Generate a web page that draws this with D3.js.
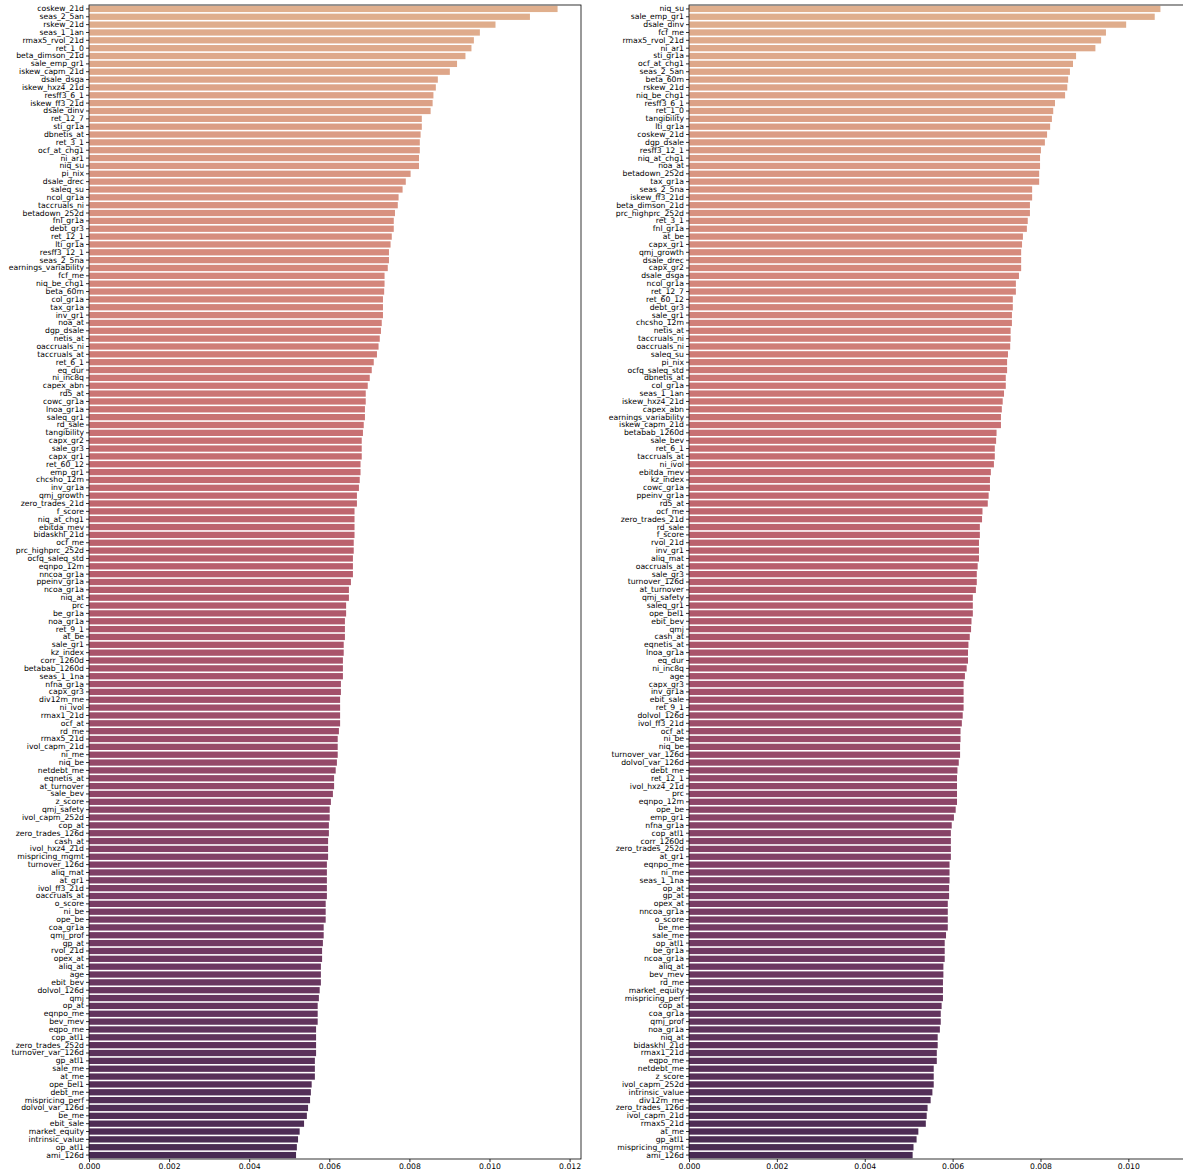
<!doctype html>
<html lang="en">
<head>
  <meta charset="UTF-8">
  <title>Feature importance bars</title>
  <script src="https://cdnjs.cloudflare.com/ajax/libs/d3/7.8.5/d3.min.js"></script>
  <style>
  body { margin: 0; background: #fff; }
  svg { display: block; }
  text { font-family: "DejaVu Sans", sans-serif; fill: #000; }
  </style>
</head>
<body>
<script>

// left panel
var leftLabels = ["coskew_21d","seas_2_5an","rskew_21d","seas_1_1an","rmax5_rvol_21d","ret_1_0","beta_dimson_21d","sale_emp_gr1","iskew_capm_21d","dsale_dsga","iskew_hxz4_21d","resff3_6_1","iskew_ff3_21d","dsale_dinv","ret_12_7","sti_gr1a","dbnetis_at","ret_3_1","ocf_at_chg1","ni_ar1","niq_su","pi_nix","dsale_drec","saleq_su",
  "ncol_gr1a","taccruals_ni","betadown_252d","fnl_gr1a","debt_gr3","ret_12_1","lti_gr1a","resff3_12_1","seas_2_5na","earnings_variability","fcf_me","niq_be_chg1","beta_60m","col_gr1a","tax_gr1a","inv_gr1","noa_at","dgp_dsale","netis_at","oaccruals_ni","taccruals_at","ret_6_1","eq_dur","ni_inc8q","capex_abn",
  "rd5_at","cowc_gr1a","lnoa_gr1a","saleq_gr1","rd_sale","tangibility","capx_gr2","sale_gr3","capx_gr1","ret_60_12","emp_gr1","chcsho_12m","inv_gr1a","qmj_growth","zero_trades_21d","f_score","niq_at_chg1","ebitda_mev","bidaskhl_21d","ocf_me","prc_highprc_252d","ocfq_saleq_std","eqnpo_12m","nncoa_gr1a","ppeinv_gr1a",
  "ncoa_gr1a","niq_at","prc","be_gr1a","noa_gr1a","ret_9_1","at_be","sale_gr1","kz_index","corr_1260d","betabab_1260d","seas_1_1na","nfna_gr1a","capx_gr3","div12m_me","ni_ivol","rmax1_21d","ocf_at","rd_me","rmax5_21d","ivol_capm_21d","ni_me","niq_be","netdebt_me","eqnetis_at",
  "at_turnover","sale_bev","z_score","qmj_safety","ivol_capm_252d","cop_at","zero_trades_126d","cash_at","ivol_hxz4_21d","mispricing_mgmt","turnover_126d","aliq_mat","at_gr1","ivol_ff3_21d","oaccruals_at","o_score","ni_be","ope_be","coa_gr1a","qmj_prof","gp_at","rvol_21d","opex_at","aliq_at",
  "age","ebit_bev","dolvol_126d","qmj","op_at","eqnpo_me","bev_mev","eqpo_me","cop_atl1","zero_trades_252d","turnover_var_126d","gp_atl1","sale_me","at_me","ope_bel1","debt_me","mispricing_perf","dolvol_var_126d","be_me","ebit_sale","market_equity","intrinsic_value","op_atl1","ami_126d"];

var leftValues = [0.01170,0.01101,0.01015,0.00976,0.00961,0.00955,0.00940,0.00919,0.00901,0.00871,0.00866,0.00860,0.00858,0.00853,0.00831,0.00831,0.00828,0.00826,0.00826,0.00824,0.00824,0.00803,0.00791,0.00783,
  0.00773,0.00771,0.00764,0.00761,0.00761,0.00756,0.00753,0.00749,0.00749,0.00746,0.00738,0.00738,0.00737,0.00734,0.00734,0.00734,0.00731,0.00729,0.00726,0.00723,0.00719,0.00711,0.00706,0.00701,0.00696,
  0.00691,0.00691,0.00689,0.00689,0.00686,0.00684,0.00681,0.00681,0.00681,0.00678,0.00678,0.00676,0.00674,0.00669,0.00669,0.00663,0.00663,0.00663,0.00663,0.00661,0.00661,0.00659,0.00659,0.00659,0.00654,
  0.00649,0.00649,0.00642,0.00642,0.00639,0.00639,0.00639,0.00636,0.00636,0.00634,0.00634,0.00634,0.00629,0.00629,0.00627,0.00627,0.00627,0.00627,0.00624,0.00621,0.00621,0.00621,0.00619,0.00616,0.00612,
  0.00612,0.00609,0.00604,0.00601,0.00601,0.00599,0.00599,0.00597,0.00597,0.00597,0.00594,0.00594,0.00594,0.00594,0.00594,0.00591,0.00591,0.00591,0.00586,0.00586,0.00584,0.00582,0.00582,0.00579,
  0.00579,0.00579,0.00576,0.00574,0.00571,0.00571,0.00571,0.00567,0.00567,0.00567,0.00567,0.00564,0.00564,0.00564,0.00556,0.00554,0.00552,0.00547,0.00544,0.00537,0.00526,0.00522,0.00519,0.00517];

// right panel
var rightLabels = ["niq_su","sale_emp_gr1","dsale_dinv","fcf_me","rmax5_rvol_21d","ni_ar1","sti_gr1a","ocf_at_chg1","seas_2_5an","beta_60m","rskew_21d","niq_be_chg1","resff3_6_1","ret_1_0","tangibility","lti_gr1a","coskew_21d","dgp_dsale","resff3_12_1","niq_at_chg1","noa_at","betadown_252d","tax_gr1a","seas_2_5na",
  "iskew_ff3_21d","beta_dimson_21d","prc_highprc_252d","ret_3_1","fnl_gr1a","at_be","capx_gr1","qmj_growth","dsale_drec","capx_gr2","dsale_dsga","ncol_gr1a","ret_12_7","ret_60_12","debt_gr3","sale_gr1","chcsho_12m","netis_at","taccruals_ni","oaccruals_ni","saleq_su","pi_nix","ocfq_saleq_std","dbnetis_at","col_gr1a",
  "seas_1_1an","iskew_hxz4_21d","capex_abn","earnings_variability","iskew_capm_21d","betabab_1260d","sale_bev","ret_6_1","taccruals_at","ni_ivol","ebitda_mev","kz_index","cowc_gr1a","ppeinv_gr1a","rd5_at","ocf_me","zero_trades_21d","rd_sale","f_score","rvol_21d","inv_gr1","aliq_mat","oaccruals_at","sale_gr3","turnover_126d",
  "at_turnover","qmj_safety","saleq_gr1","ope_bel1","ebit_bev","qmj","cash_at","eqnetis_at","lnoa_gr1a","eq_dur","ni_inc8q","age","capx_gr3","inv_gr1a","ebit_sale","ret_9_1","dolvol_126d","ivol_ff3_21d","ocf_at","ni_be","niq_be","turnover_var_126d","dolvol_var_126d","debt_me",
  "ret_12_1","ivol_hxz4_21d","prc","eqnpo_12m","ope_be","emp_gr1","nfna_gr1a","cop_atl1","corr_1260d","zero_trades_252d","at_gr1","eqnpo_me","ni_me","seas_1_1na","op_at","gp_at","opex_at","nncoa_gr1a","o_score","be_me","sale_me","op_atl1","be_gr1a","ncoa_gr1a","aliq_at",
  "bev_mev","rd_me","market_equity","mispricing_perf","cop_at","coa_gr1a","qmj_prof","noa_gr1a","niq_at","bidaskhl_21d","rmax1_21d","eqpo_me","netdebt_me","z_score","ivol_capm_252d","intrinsic_value","div12m_me","zero_trades_126d","ivol_capm_21d","rmax5_21d","at_me","gp_atl1","mispricing_mgmt","ami_126d"];

var rightValues = [0.01073,0.01060,0.00995,0.00949,0.00938,0.00925,0.00881,0.00874,0.00867,0.00863,0.00861,0.00856,0.00833,0.00829,0.00826,0.00822,0.00815,0.00810,0.00801,0.00799,0.00799,0.00797,0.00797,0.00781,
  0.00781,0.00776,0.00776,0.00771,0.00769,0.00760,0.00758,0.00756,0.00756,0.00756,0.00751,0.00744,0.00744,0.00737,0.00737,0.00735,0.00735,0.00732,0.00732,0.00731,0.00726,0.00724,0.00724,0.00721,0.00721,
  0.00717,0.00714,0.00712,0.00710,0.00710,0.00700,0.00699,0.00696,0.00696,0.00694,0.00687,0.00685,0.00685,0.00682,0.00680,0.00668,0.00667,0.00662,0.00662,0.00660,0.00660,0.00660,0.00657,0.00655,0.00655,
  0.00653,0.00646,0.00646,0.00646,0.00643,0.00642,0.00639,0.00636,0.00635,0.00635,0.00632,0.00628,0.00625,0.00625,0.00625,0.00625,0.00623,0.00621,0.00618,0.00618,0.00617,0.00617,0.00614,0.00611,
  0.00610,0.00610,0.00610,0.00610,0.00607,0.00603,0.00598,0.00596,0.00596,0.00596,0.00596,0.00593,0.00593,0.00593,0.00592,0.00592,0.00589,0.00589,0.00589,0.00589,0.00585,0.00582,0.00582,0.00582,0.00579,
  0.00579,0.00578,0.00578,0.00578,0.00575,0.00573,0.00573,0.00571,0.00566,0.00566,0.00564,0.00564,0.00557,0.00557,0.00557,0.00554,0.00550,0.00543,0.00541,0.00539,0.00522,0.00518,0.00511,0.00509];

var leftTicks = [0, 0.002, 0.004, 0.006, 0.008, 0.010, 0.012];
var rightTicks = [0, 0.002, 0.004, 0.006, 0.008, 0.010];

var W = 1183, H = 1172;
var plotTop = 5, plotBottom = 1159;
var fontSize = 7.7;

// desaturated flare-like ramp, light to dark
var ramp = d3.interpolateRgbBasis(["#e0b08e", "#d6857a", "#bb5a6a", "#7e3e6a", "#472a52"]);

var svg = d3.select('body')
  .append('svg')
  .attr('width', W)
  .attr('height', H);

function drawPanel(labels, values, ticks, x0, x1) {
  var n = labels.length;
  var x = d3.scaleLinear()
    .domain([0, d3.max(values) * 1.05])
    .range([x0, x1]);
  var y = d3.scaleBand()
    .domain(labels)
    .range([plotTop, plotBottom])
    .paddingInner(0.2)
    .paddingOuter(0.1);

  var g = svg.append('g');

  g.selectAll('rect')
    .data(values)
    .enter()
    .append('rect')
    .attr('x', x(0))
    .attr('y', function(d, i) { return y(labels[i]); })
    .attr('width', function(d) { return x(d) - x(0); })
    .attr('height', y.bandwidth())
    .attr('fill', function(d, i) { return ramp((i + 1) / (n + 1)); });

  var yAxis = d3.axisLeft(y).tickSize(3).tickPadding(2);
  g.append('g')
    .attr('transform', 'translate(' + x0 + ',0)')
    .call(yAxis)
    .call(function(s) {
      s.select('.domain').remove();
      s.selectAll('text').attr('font-size', fontSize + 'px').attr('font-family', '"DejaVu Sans", sans-serif');
      s.selectAll('line').attr('stroke', '#000').attr('stroke-width', 0.8);
    });

  var xAxis = d3.axisBottom(x).tickValues(ticks).tickFormat(d3.format('.3f')).tickSize(3).tickPadding(2);
  g.append('g')
    .attr('transform', 'translate(0,' + plotBottom + ')')
    .call(xAxis)
    .call(function(s) {
      s.select('.domain').remove();
      s.selectAll('text').attr('font-size', fontSize + 'px').attr('font-family', '"DejaVu Sans", sans-serif');
      s.selectAll('line').attr('stroke', '#000').attr('stroke-width', 0.8);
    });

  // spines
  g.append('rect')
    .attr('x', x0)
    .attr('y', plotTop)
    .attr('width', x1 - x0)
    .attr('height', plotBottom - plotTop)
    .attr('fill', 'none')
    .attr('stroke', '#000')
    .attr('stroke-width', 0.8);
}

drawPanel(leftLabels, leftValues, leftTicks, 89, 581);
drawPanel(rightLabels, rightValues, rightTicks, 689, 1184);

</script>
</body>
</html>
